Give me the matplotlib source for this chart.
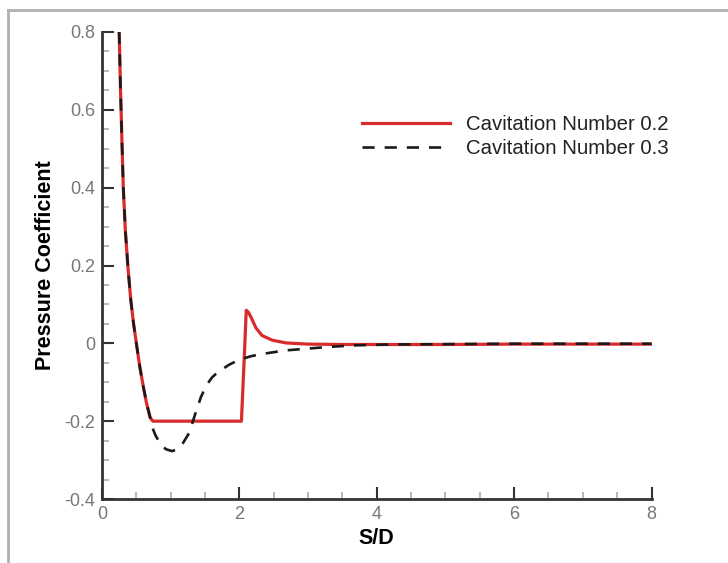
import matplotlib
matplotlib.use("Agg")
import matplotlib.pyplot as plt
from matplotlib.lines import Line2D
from matplotlib.ticker import MultipleLocator, FuncFormatter

plt.rcParams['font.family'] = ['Liberation Sans', 'DejaVu Sans']

# Wall pressure coefficient along the body, cavitation number 0.2
sd_02 = [0.25, 0.27, 0.29, 0.31, 0.34, 0.38, 0.42, 0.46, 0.50, 0.55, 0.60, 0.65,
         0.70, 0.74, 1.00, 1.50, 2.03, 2.06, 2.08, 2.10, 2.13, 2.17, 2.24, 2.33,
         2.48, 2.68, 3.00, 3.50, 4.00, 5.00, 6.00, 7.00, 8.00]
cp_02 = [0.80, 0.65, 0.52, 0.40, 0.29, 0.19, 0.11, 0.05, 0.00, -0.06, -0.11, -0.155,
         -0.19, -0.20, -0.20, -0.20, -0.20, -0.08, 0.00, 0.085, 0.080, 0.067, 0.040, 0.020,
         0.008, 0.001, -0.002, -0.003, -0.003, -0.003, -0.002, -0.002, -0.002]

# Wall pressure coefficient along the body, cavitation number 0.3
sd_03 = [0.25, 0.27, 0.29, 0.31, 0.34, 0.38, 0.42, 0.46, 0.50, 0.55, 0.60, 0.65,
         0.70, 0.73, 0.78, 0.85, 0.93, 1.02, 1.10, 1.18, 1.27, 1.36, 1.44, 1.52,
         1.60, 1.68, 1.85, 2.00, 2.17, 2.34, 2.68, 2.97, 3.31, 3.70, 4.20, 5.00,
         6.00, 7.00, 8.00]
cp_03 = [0.80, 0.65, 0.52, 0.40, 0.29, 0.19, 0.11, 0.05, 0.00, -0.06, -0.11, -0.155,
         -0.19, -0.215, -0.237, -0.258, -0.272, -0.277, -0.272, -0.256, -0.230, -0.180, -0.138, -0.108,
         -0.088, -0.075, -0.055, -0.042, -0.033, -0.027, -0.018, -0.014, -0.009, -0.005, -0.003, -0.002,
         -0.001, -0.001, -0.001]

labels = ['Cavitation Number 0.2', 'Cavitation Number 0.3']
x_ticks = [0, 2, 4, 6, 8]

fig = plt.figure(figsize=(7.28, 5.63), dpi=100)
ax = fig.add_axes([102 / 728, 1 - 499 / 563, 549.5 / 728, 467 / 563])

ax.plot(sd_02, cp_02, color='#d92b2b', lw=2.3, label=labels[0], zorder=3)
ax.plot(sd_03, cp_03, color='#1a1a1a', lw=1.9, dashes=(4.6, 3.8), label=labels[1], zorder=4)

ax.set_xlim(0, 8)
ax.set_ylim(-0.4, 0.8)
ax.set_xticks(x_ticks)
ax.xaxis.set_minor_locator(MultipleLocator(0.5))
ax.yaxis.set_major_locator(MultipleLocator(0.2))
ax.yaxis.set_minor_locator(MultipleLocator(0.05))
ax.yaxis.set_major_formatter(FuncFormatter(lambda v, p: f"{round(v, 1) + 0:g}"))

for side in ('top', 'right'):
    ax.spines[side].set_visible(False)
for side in ('left', 'bottom'):
    ax.spines[side].set_color('#333333')
    ax.spines[side].set_linewidth(2.0)

ax.tick_params(which='major', direction='in', length=8.5, width=1.5,
               color='#333333', labelsize=13, labelcolor='#777777', pad=5)
ax.tick_params(which='minor', direction='in', length=5, width=1.2, color='#aaaaaa')

ax.set_xlabel('S/D', fontsize=15.5, fontweight='bold', labelpad=4)
ax.set_ylabel('Pressure Coefficient', fontsize=15.5, fontweight='bold', labelpad=6)

leg = ax.legend(loc='center left', bbox_to_anchor=(362 / 728, 1 - 136.5 / 563),
                bbox_transform=fig.transFigure, frameon=False, fontsize=14.7,
                handlelength=4.3, handletextpad=0.8, labelspacing=0.27,
                borderpad=0, borderaxespad=0)
for t in leg.get_texts():
    t.set_color('#222222')

# light grey page frame
fig.add_artist(Line2D([8 / 728, 1], [1 - 10 / 563, 1 - 10 / 563],
                      transform=fig.transFigure, color='#b0b0b0', lw=2))
fig.add_artist(Line2D([8 / 728, 8 / 728], [0, 1 - 10 / 563],
                      transform=fig.transFigure, color='#b0b0b0', lw=2))

fig.savefig('out.png', dpi=100)
